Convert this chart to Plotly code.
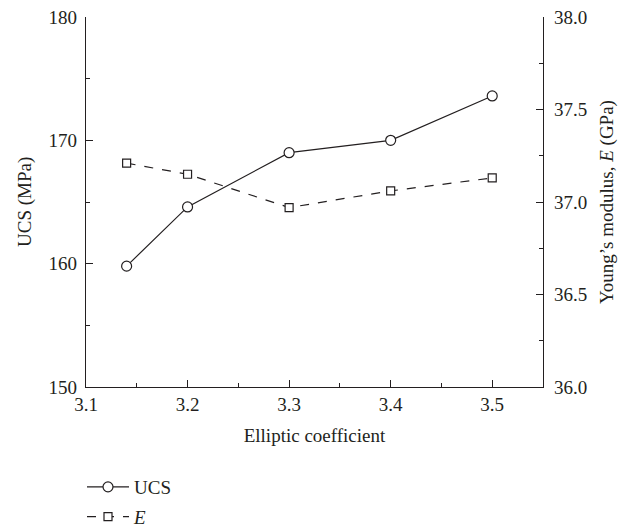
import plotly.graph_objects as go

x_vals = [3.14, 3.2, 3.3, 3.4, 3.5]
ucs_vals = [159.8, 164.6, 169.0, 170.0, 173.6]
e_vals = [37.21, 37.15, 36.97, 37.06, 37.13]

FONT = "Liberation Serif"
BLACK = "#231f20"
FS = 19

fig = go.Figure()
fig.add_trace(go.Scatter(
    x=x_vals, y=ucs_vals, name="UCS", mode="lines+markers", legendgroup="a",
    line=dict(color=BLACK, width=1.2),
    marker=dict(symbol="circle", size=10, color="white", line=dict(color=BLACK, width=1.2)),
))
fig.add_trace(go.Scatter(
    x=x_vals, y=e_vals, name="<i>E</i>", mode="lines+markers", yaxis="y2", legendgroup="b",
    line=dict(color=BLACK, width=1.2, dash="dash"),
    marker=dict(symbol="square", size=8, color="white", line=dict(color=BLACK, width=1.2)),
))

axis_common = dict(
    showgrid=False, zeroline=False, showline=True, linecolor=BLACK, linewidth=1.2,
    ticks="inside", ticklen=7, tickcolor=BLACK, tickwidth=1,
    tickfont=dict(family=FONT, size=FS, color=BLACK),
)

fig.update_layout(
    width=620, height=530,
    margin=dict(l=86, r=77, t=17, b=143, autoexpand=False),
    plot_bgcolor="white", paper_bgcolor="white",
    font=dict(family=FONT, size=FS, color=BLACK),
    xaxis=dict(
        range=[3.1, 3.55], tick0=3.1, dtick=0.1, tickformat=".1f",
        title=dict(text="Elliptic coefficient", font=dict(family=FONT, size=FS), standoff=14),
        minor=dict(dtick=0.05, tick0=3.1, ticks="inside", ticklen=4, tickcolor=BLACK),
        **axis_common,
    ),
    yaxis=dict(
        range=[150, 180], tick0=150, dtick=10,
        ticklabelstandoff=4,
        minor=dict(dtick=5, tick0=150, ticks="inside", ticklen=4, tickcolor=BLACK),
        **axis_common,
    ),
    yaxis2=dict(
        range=[36, 38], tick0=36, dtick=0.5, tickformat=".1f",
        overlaying="y", side="right",
        ticklabelstandoff=6,
        minor=dict(dtick=0.25, tick0=36, ticks="inside", ticklen=4, tickcolor=BLACK),
        **axis_common,
    ),
    annotations=[
        dict(text="UCS (MPa)", xref="paper", yref="paper", x=(25 - 86) / 457, y=0.5,
             xanchor="center", yanchor="middle", textangle=-90, showarrow=False,
             font=dict(family=FONT, size=FS, color=BLACK)),
        dict(text="Young’s modulus, <i>E</i> (GPa)", xref="paper", yref="paper",
             x=(607 - 86) / 457, y=0.5, xanchor="center", yanchor="middle",
             textangle=-90, showarrow=False,
             font=dict(family=FONT, size=FS, color=BLACK)),
    ],
    showlegend=True,
    legend=dict(
        xref="container", yref="container", x=82 / 620, y=(530 - 468) / 530,
        xanchor="left", yanchor="top",
        font=dict(family=FONT, size=FS, color=BLACK), bgcolor="rgba(0,0,0,0)",
        tracegroupgap=2, itemwidth=42,
    ),
)

fig.write_html("out.html")
